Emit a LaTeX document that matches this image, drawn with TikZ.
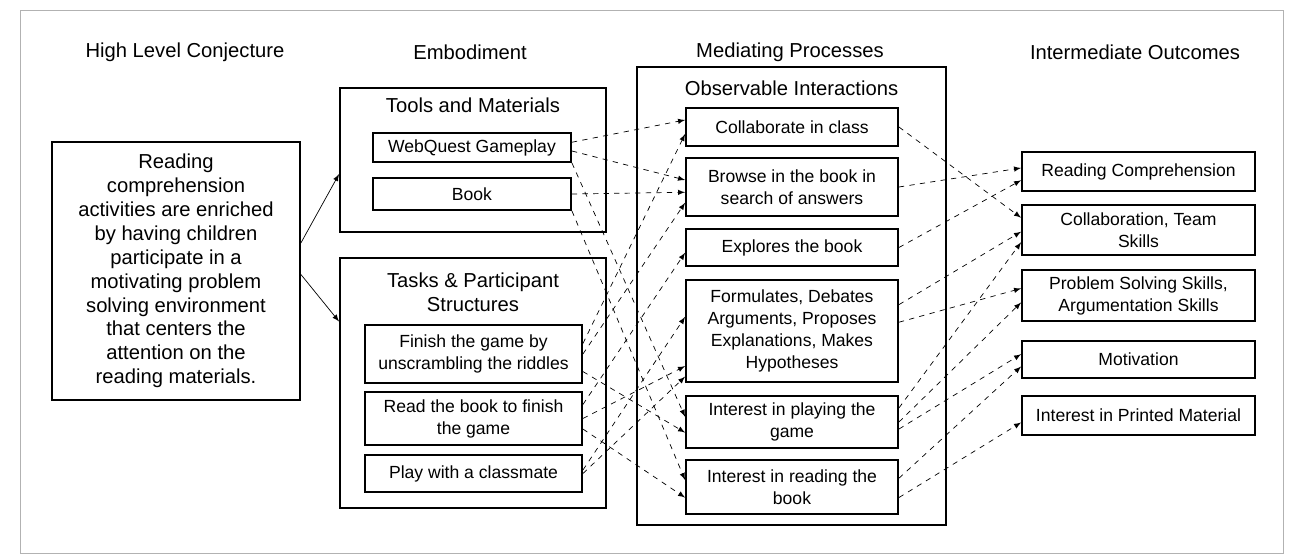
\documentclass[tikz,border=0pt]{standalone}
\usepackage{fontspec}
\setmainfont{Liberation Sans}
\usepackage{tikz}
\usetikzlibrary{arrows}

\begin{document}
\begin{tikzpicture}[x=0.02cm, y=-0.02cm,
  box/.style={draw, line width=1.1pt, align=center, inner sep=2pt, font=\fontsize{10}{12.5}\selectfont},
  group/.style={draw, line width=1.1pt},
  head/.style={font=\fontsize{11.5}{13.5}\selectfont},
  link/.style={dashed, thin, ->, >=latex}]
\useasboundingbox (0,0) rectangle (1301,560);
\draw[gray!60] (20,10) rectangle (1283,553);

% column headings
\node[head] (h1) at (185,52) {High Level Conjecture};
\node[head] (h2) at (470,52) {Embodiment};
\node[head] (h3) at (790,52) {Mediating Processes};
\node[head] (h4) at (1135,52) {Intermediate Outcomes};

% conjecture
\node[box, minimum width=4.96cm, minimum height=5.16cm, font=\fontsize{11.5}{13.6}\selectfont] (conj) at (176,271)
  {Reading\\comprehension\\activities are enriched\\by having children\\participate in a\\motivating problem\\solving environment\\that centers the\\attention on the\\reading materials.};

% embodiment
\node[group, minimum width=5.32cm, minimum height=2.88cm] (tools) at (473,160) {};
\node[head] (toolst) at (473,105) {Tools and Materials};
\node[box, minimum width=3.96cm, minimum height=0.58cm] (wq) at (472,147.5) {WebQuest Gameplay};
\node[box, minimum width=3.96cm, minimum height=0.64cm] (book) at (472,194) {Book};

\node[group, minimum width=5.32cm, minimum height=5cm] (tasks) at (473,383) {};
\node[head, align=center] (taskst) at (473,292) {Tasks \& Participant\\Structures};
\node[box, minimum width=4.34cm, minimum height=1.16cm] (finish) at (473.5,354) {Finish the game by\\unscrambling the riddles};
\node[box, minimum width=4.34cm, minimum height=1.06cm] (readbk) at (473.5,418.5) {Read the book to finish\\the game};
\node[box, minimum width=4.34cm, minimum height=0.74cm] (play) at (473.5,473.5) {Play with a classmate};

% mediating processes
\node[group, minimum width=6.18cm, minimum height=9.16cm] (med) at (791.5,296) {};
\node[head] (medt) at (791.5,88) {Observable Interactions};
\node[box, minimum width=4.24cm, minimum height=0.76cm] (collab) at (792,127) {Collaborate in class};
\node[box, minimum width=4.24cm, minimum height=1.16cm] (browse) at (792,187) {Browse in the book in\\search of answers};
\node[box, minimum width=4.24cm, minimum height=0.74cm] (explore) at (792,247.5) {Explores the book};
\node[box, minimum width=4.24cm, minimum height=2.04cm] (formul) at (792,331) {Formulates, Debates\\Arguments, Proposes\\Explanations, Makes\\Hypotheses};
\node[box, minimum width=4.24cm, minimum height=1.04cm] (playint) at (792,422) {Interest in playing the\\game};
\node[box, minimum width=4.24cm, minimum height=1.08cm] (readint) at (792,487) {Interest in reading the\\book};

% outcomes
\node[box, minimum width=4.66cm, minimum height=0.78cm] (rc) at (1138.5,171.5) {Reading Comprehension};
\node[box, minimum width=4.66cm, minimum height=1cm] (team) at (1138.5,230) {Collaboration, Team\\Skills};
\node[box, minimum width=4.66cm, minimum height=1.02cm] (solve) at (1138.5,295.5) {Problem Solving Skills,\\Argumentation Skills};
\node[box, minimum width=4.66cm, minimum height=0.74cm] (motiv) at (1138.5,359.5) {Motivation};
\node[box, minimum width=4.66cm, minimum height=0.78cm] (print) at (1138.5,415.5) {Interest in Printed Material};

% conjecture -> embodiment
\draw[thin, ->, >=latex] ([yshift=16pt]conj.east) -- ([yshift=-8pt]tools.west);
\draw[thin, ->, >=latex] ([yshift=-2pt]conj.east) -- ([yshift=35pt]tasks.west);

% embodiment -> mediating processes
\draw[link] ([yshift=3pt]wq.east) -- ([yshift=4pt]collab.west);
\draw[link] ([yshift=-2pt]wq.east) -- ([yshift=4pt]browse.west);
\draw[link] (wq.south east) -- ([yshift=3pt]playint.west);
\draw[link] (book.east) -- ([yshift=-3pt]browse.west);
\draw[link] (book.south east) -- ([yshift=4pt]readint.west);
\draw[link] ([yshift=6pt]finish.east) -- ([yshift=-4pt]collab.west);
\draw[link] (finish.east) -- ([yshift=-9pt]browse.west);
\draw[link] ([yshift=-10pt]finish.east) -- ([yshift=-6pt]playint.west);
\draw[link] ([yshift=8pt]readbk.east) -- ([yshift=-3pt]explore.west);
\draw[link] (readbk.east) -- ([yshift=-20pt]formul.west);
\draw[link] ([yshift=-6pt]readbk.east) -- ([yshift=-6pt]readint.west);
\draw[link] ([yshift=2pt]play.east) -- ([yshift=8pt]formul.west);
\draw[link] (play.east) -- ([yshift=-26pt]formul.west);

% mediating processes -> outcomes
\draw[link] (collab.east) -- ([yshift=7pt]team.west);
\draw[link] (browse.east) -- ([yshift=2pt]rc.west);
\draw[link] (explore.east) -- ([yshift=-5pt]rc.west);
\draw[link] ([yshift=15pt]formul.east) -- ([yshift=-1pt]team.west);
\draw[link] ([yshift=5pt]formul.east) -- ([yshift=4pt]solve.west);
\draw[link] ([yshift=8pt]playint.east) -- ([yshift=-7pt]team.west);
\draw[link] (playint.east) -- ([yshift=-4pt]solve.west);
\draw[link] ([yshift=-4pt]playint.east) -- ([yshift=3pt]motiv.west);
\draw[link] ([yshift=5pt]readint.east) -- ([yshift=-4pt]motiv.west);
\draw[link] ([yshift=-6pt]readint.east) -- ([yshift=-4pt]print.west);
\end{tikzpicture}
\end{document}
